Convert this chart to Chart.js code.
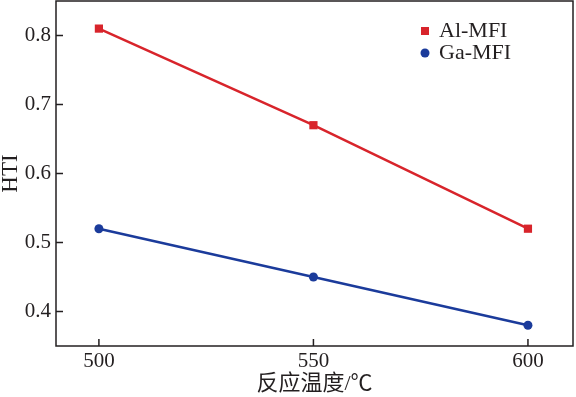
<!DOCTYPE html>
<html lang="zh">
<head>
    <meta charset="UTF-8">
    <title>HTI</title>
    <script src="https://cdn.jsdelivr.net/npm/chart.js"></script>
    <style>
        body { margin: 0; background: #fff; }
        .chartBox { width: 576px; height: 397px; }
    </style>
</head>
<body>
    <div class="chartBox">
        <canvas id="chart"></canvas>
    </div>

    <script>
        const temps = [500, 550, 600];
        const alMFI = [0.81, 0.67, 0.52];
        const gaMFI = [0.52, 0.45, 0.38];
        const xTicks = [500, 550, 600];
        const yTicks = [0.4, 0.5, 0.6, 0.7, 0.8];

        const serif = "'Liberation Serif', 'Noto Sans CJK SC', serif";
        const red = '#d8242b';
        const blue = '#1b3b9b';

        // inward tick marks, top/right frame and the legend
        const extras = {
            id: 'extras',
            afterDraw(chart) {
                const ctx = chart.ctx;
                const a = chart.chartArea;
                const x = chart.scales.x, y = chart.scales.y;
                ctx.save();
                ctx.strokeStyle = '#231f20';
                ctx.lineWidth = 1.5;
                ctx.strokeRect(a.left, a.top, a.right - a.left, a.bottom - a.top);
                ctx.beginPath();
                xTicks.forEach(v => {
                    const px = x.getPixelForValue(v);
                    ctx.moveTo(px, a.bottom);
                    ctx.lineTo(px, a.bottom - 7);
                });
                yTicks.forEach(v => {
                    const py = y.getPixelForValue(v);
                    ctx.moveTo(a.left, py);
                    ctx.lineTo(a.left + 7, py);
                });
                ctx.stroke();

                // legend
                ctx.font = '22px ' + serif;
                ctx.textBaseline = 'middle';
                chart.data.datasets.forEach((ds, i) => {
                    const cy = 31 + i * 22;
                    ctx.fillStyle = ds.backgroundColor;
                    if (ds.pointStyle === 'rect') {
                        ctx.fillRect(421, cy - 4, 8, 8);
                    } else {
                        ctx.beginPath();
                        ctx.arc(425, cy, 4.5, 0, Math.PI * 2);
                        ctx.fill();
                    }
                    ctx.fillStyle = '#231f20';
                    ctx.fillText(ds.label, 439, cy);
                });
                ctx.restore();
            }
        };

        const noPad = s => {
            s.paddingTop = 0; s.paddingBottom = 0;
            s.paddingLeft = 0; s.paddingRight = 0;
        };

        const data = {
            datasets: [{
                label: 'Al-MFI',
                data: temps.map((t, i) => ({ x: t, y: alMFI[i] })),
                borderColor: red,
                backgroundColor: red,
                borderWidth: 2.5,
                pointStyle: 'rect',
                pointRadius: 5.8,
                pointBorderWidth: 0
            }, {
                label: 'Ga-MFI',
                data: temps.map((t, i) => ({ x: t, y: gaMFI[i] })),
                borderColor: blue,
                backgroundColor: blue,
                borderWidth: 2.5,
                pointStyle: 'circle',
                pointRadius: 4.5,
                pointBorderWidth: 0
            }]
        };

        const config = {
            type: 'line',
            data: data,
            options: {
                responsive: true,
                maintainAspectRatio: false,
                animation: false,
                layout: { autoPadding: false, padding: { top: 1, right: 3, left: 0, bottom: 0 } },
                plugins: {
                    legend: { display: false },
                    tooltip: { enabled: false }
                },
                scales: {
                    x: {
                        type: 'linear',
                        min: 490,
                        max: 610.5,
                        afterBuildTicks: s => { s.ticks = xTicks.map(v => ({ value: v })); },
                        afterFit: s => { s.height = 51; noPad(s); },
                        grid: { display: false },
                        border: { display: false },
                        ticks: {
                            color: '#231f20',
                            padding: -5,
                            font: { family: serif, size: 21 }
                        },
                        title: {
                            display: true,
                            text: '反应温度/℃',
                            color: '#231f20',
                            padding: { top: 0, bottom: 0 },
                            font: { family: serif, size: 22 }
                        }
                    },
                    y: {
                        min: 0.35,
                        max: 0.85,
                        afterBuildTicks: s => { s.ticks = yTicks.map(v => ({ value: v })); },
                        afterFit: s => { s.width = 56; noPad(s); },
                        grid: { display: false },
                        border: { display: false },
                        ticks: {
                            color: '#231f20',
                            padding: -3,
                            callback: v => v.toFixed(1),
                            font: { family: serif, size: 21 }
                        },
                        title: {
                            display: true,
                            text: 'HTI',
                            color: '#231f20',
                            padding: { top: -3, bottom: 0 },
                            font: { family: serif, size: 23 }
                        }
                    }
                }
            },
            plugins: [extras]
        };

        const myChart = new Chart(document.getElementById('chart'), config);
    </script>
</body>
</html>
